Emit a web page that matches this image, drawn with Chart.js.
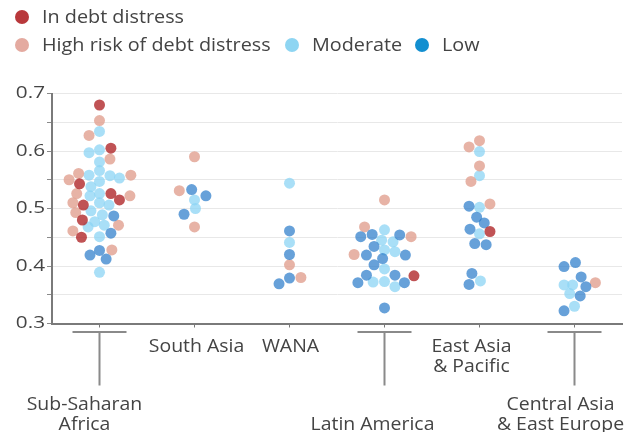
<!DOCTYPE html>
<html>
<head>
<meta charset="utf-8">
<script src="https://cdn.jsdelivr.net/npm/chart.js@4.4.0/dist/chart.umd.min.js"></script>
<style>
  html, body { margin: 0; padding: 0; background: #fff; }
  #wrap { position: relative; width: 642px; height: 432px; }
  #legend { position: absolute; left: 0; top: 0; font-family: 'Open Sans', sans-serif; font-size: 18px; color: #444; }
  .lg-dot { position: absolute; width: 14px; height: 14px; border-radius: 50%; }
  .lg-text { position: absolute; white-space: nowrap; line-height: 20px; transform: scaleX(1.1); transform-origin: left center; }
  canvas { position: absolute; left: 0; top: 0; }
</style>
</head>
<body>
<div id="wrap">
  <canvas id="debtChart" width="642" height="432"></canvas>
  <div id="legend"></div>
</div>
<script>
const categories = [['Sub-Saharan', 'Africa'], ['South Asia'], ['WANA'], ['Latin America'], ['East Asia', '& Pacific'], ['Central Asia', '& East Europe']];
const statuses = ['In debt distress', 'High risk of debt distress', 'Moderate', 'Low'];
const yTicks = [0.3, 0.4, 0.5, 0.6, 0.7];

// each point: [category index, value, horizontal jitter (in category widths)]
const inDistress = [
  [0, 0.680, 0], [0, 0.605, 0.12], [0, 0.543, -0.21], [0, 0.526, 0.12], [0, 0.515, 0.21],
  [0, 0.506, -0.17], [0, 0.480, -0.18], [0, 0.450, -0.19],
  [3, 0.383, 0.31],
  [4, 0.460, 0.11]
];
const highRisk = [
  [0, 0.653, 0], [0, 0.627, -0.11], [0, 0.586, 0.11], [0, 0.561, -0.22], [0, 0.550, -0.32],
  [0, 0.558, 0.33], [0, 0.526, -0.24], [0, 0.510, -0.28], [0, 0.493, -0.25], [0, 0.522, 0.32],
  [0, 0.471, 0.20], [0, 0.461, -0.28], [0, 0.428, 0.13],
  [1, 0.590, 0], [1, 0.531, -0.16], [1, 0.468, 0],
  [2, 0.402, 0], [2, 0.380, 0.12],
  [3, 0.515, 0], [3, 0.468, -0.21], [3, 0.451, 0.28], [3, 0.420, -0.32],
  [4, 0.618, 0], [4, 0.607, -0.11], [4, 0.574, 0], [4, 0.547, -0.09], [4, 0.508, 0.11],
  [5, 0.371, 0.22]
];
const moderate = [
  [0, 0.634, 0], [0, 0.597, -0.11], [0, 0.602, 0], [0, 0.581, 0], [0, 0.566, 0],
  [0, 0.558, -0.11], [0, 0.557, 0.11], [0, 0.553, 0.21], [0, 0.538, -0.09], [0, 0.547, 0],
  [0, 0.526, 0], [0, 0.522, -0.10], [0, 0.506, 0.10], [0, 0.510, 0], [0, 0.496, -0.09],
  [0, 0.489, 0.03], [0, 0.468, -0.12], [0, 0.477, -0.05], [0, 0.471, 0.05], [0, 0.451, 0],
  [0, 0.389, 0],
  [1, 0.515, 0], [1, 0.500, 0.01],
  [2, 0.544, 0], [2, 0.441, 0],
  [3, 0.463, 0], [3, 0.445, -0.03], [3, 0.442, 0.09], [3, 0.428, 0], [3, 0.425, 0.11],
  [3, 0.395, 0], [3, 0.372, -0.12], [3, 0.373, 0], [3, 0.364, 0.11],
  [4, 0.599, 0], [4, 0.557, 0], [4, 0.502, 0], [4, 0.456, 0], [4, 0.374, 0.01],
  [5, 0.367, -0.11], [5, 0.367, -0.02], [5, 0.352, -0.05], [5, 0.330, 0]
];
const low = [
  [0, 0.487, 0.15], [0, 0.457, 0.12], [0, 0.427, 0], [0, 0.419, -0.10], [0, 0.412, 0.07],
  [1, 0.533, -0.03], [1, 0.522, 0.12], [1, 0.490, -0.11],
  [2, 0.461, 0], [2, 0.420, 0], [2, 0.379, 0], [2, 0.369, -0.11],
  [3, 0.451, -0.25], [3, 0.455, -0.13], [3, 0.454, 0.16], [3, 0.434, -0.11], [3, 0.419, -0.19],
  [3, 0.419, 0.22], [3, 0.413, -0.02], [3, 0.402, -0.11], [3, 0.384, -0.19], [3, 0.384, 0.11],
  [3, 0.371, -0.28], [3, 0.371, 0.21], [3, 0.327, 0],
  [4, 0.504, -0.11], [4, 0.485, -0.03], [4, 0.475, 0.05], [4, 0.464, -0.10], [4, 0.439, -0.05],
  [4, 0.437, 0.07], [4, 0.387, -0.08], [4, 0.368, -0.11],
  [5, 0.399, -0.11], [5, 0.406, 0.01], [5, 0.381, 0.07], [5, 0.364, 0.12], [5, 0.348, 0.06],
  [5, 0.322, -0.11]
];

const seriesPoints = [inDistress, highRisk, moderate, low];
const legendColors = ['#b8383b', '#e4aaa0', '#8ed5f2', '#138fd0'];
const dotColors = ['rgba(178,45,48,0.82)', 'rgba(226,162,146,0.82)', 'rgba(140,212,244,0.75)', 'rgba(45,125,202,0.72)'];
const drawOrder = [0, 2, 3, 1]; // lower drawn on top

const fontFamily = "'Open Sans', sans-serif";

// legend (html)
const legendPos = [[22, 17, 42], [22, 45, 42], [292, 45, 312], [422, 45, 442]];
const legendEl = document.getElementById('legend');
statuses.forEach((s, i) => {
  const [cx, cy, tx] = legendPos[i];
  const dot = document.createElement('div');
  dot.className = 'lg-dot';
  dot.style.left = (cx - 7) + 'px';
  dot.style.top = (cy - 7) + 'px';
  dot.style.background = legendColors[i];
  legendEl.appendChild(dot);
  const txt = document.createElement('div');
  txt.className = 'lg-text';
  txt.style.left = tx + 'px';
  txt.style.top = (cy - 11) + 'px';
  txt.textContent = s;
  legendEl.appendChild(txt);
});

// category labels under the axis, some hung on a "T" stem
const labelLayout = [
  { dx: -15, dy: 81.5, stem: true },
  { dx: 2, dy: 23.5, stem: false },
  { dx: 1, dy: 23.5, stem: false },
  { dx: -12, dy: 101.5, stem: true },
  { dx: -8, dy: 23.5, stem: false },
  { dx: -14, dy: 81.5, stem: true }
];

// the source text is a little wide, stretch it horizontally
function wideText(ctx, t, x, y, sx) {
  ctx.save();
  ctx.translate(x, y);
  ctx.scale(sx, 1);
  ctx.fillText(t, 0, 0);
  ctx.restore();
}

const axisText = {
  id: 'axisText',
  afterDraw(chart) {
    const ctx = chart.ctx;
    const xs = chart.scales.x, ys = chart.scales.y;
    const base = chart.chartArea.bottom;
    ctx.save();
    ctx.strokeStyle = '#8a8a8a';
    ctx.lineWidth = 2;
    ctx.fillStyle = '#444';
    ctx.textBaseline = 'middle';

    // y labels
    ctx.font = '17px ' + fontFamily;
    ctx.textAlign = 'right';
    yTicks.forEach(v => wideText(ctx, v.toFixed(1), chart.chartArea.left - 7, ys.getPixelForValue(v), 1.22));

    // category labels
    ctx.font = '18px ' + fontFamily;
    ctx.textAlign = 'center';
    categories.forEach((lines, i) => {
      const lay = labelLayout[i];
      const cx = xs.getPixelForValue(i);
      if (lay.stem) {
        ctx.beginPath();
        ctx.moveTo(cx - 27, base + 8.5);
        ctx.lineTo(cx + 27, base + 8.5);
        ctx.moveTo(cx, base + 8.5);
        ctx.lineTo(cx, base + 62);
        ctx.stroke();
      }
      lines.forEach((t, k) => wideText(ctx, t, cx + lay.dx, base + lay.dy + k * 20, 1.08));
    });
    ctx.restore();
  }
};

const gridSteps = [];
for (let v = 30; v <= 70; v += 5) gridSteps.push(v / 100);

const ctx = document.getElementById('debtChart').getContext('2d');
const debtChart = new Chart(ctx, {
  type: 'scatter',
  data: {
    datasets: statuses.map((s, i) => ({
      label: s,
      data: seriesPoints[i].map(p => ({ x: p[0] + p[2], y: p[1] })),
      backgroundColor: dotColors[i],
      borderWidth: 0,
      pointRadius: 5.5,
      order: drawOrder[i]
    }))
  },
  options: {
    responsive: false,
    animation: false,
    layout: { padding: { top: 93.5, right: 20, left: 0, bottom: 0 } },
    plugins: {
      legend: { display: false },
      tooltip: { enabled: false }
    },
    scales: {
      x: {
        type: 'linear',
        min: -0.5,
        max: 5.5,
        afterBuildTicks: (s) => { s.ticks = categories.map((c, i) => ({ value: i })); },
        afterFit: (s) => { s.height = 108.5; },
        ticks: { display: false },
        grid: { drawOnChartArea: false, drawTicks: true, tickLength: 4, tickColor: '#777' },
        border: { color: '#7a7a7a', width: 2 }
      },
      y: {
        min: 0.3,
        max: 0.7,
        afterBuildTicks: (s) => { s.ticks = gridSteps.map(v => ({ value: v })); },
        afterFit: (s) => { s.width = 52; },
        ticks: { display: false },
        grid: { color: '#e8e8e8', tickLength: 5, tickColor: '#8a8a8a' },
        border: { color: '#7a7a7a', width: 2 }
      }
    }
  },
  plugins: [axisText]
});
</script>
</body>
</html>
